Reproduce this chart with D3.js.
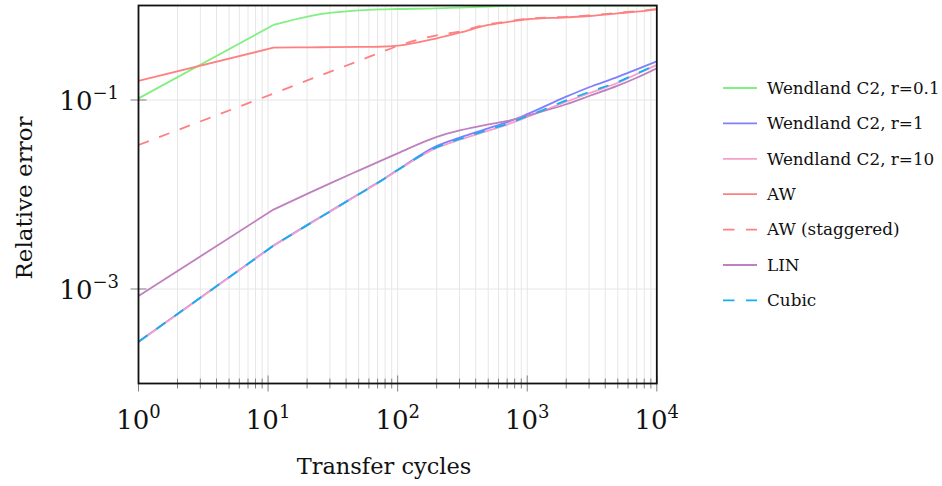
<!DOCTYPE html>
<html><head><meta charset="utf-8">
<script src="https://cdn.jsdelivr.net/npm/d3@7"></script>
<style>
html,body{margin:0;padding:0;background:#fff;}
svg{display:block;font-family:"DejaVu Serif",serif;}
</style></head>
<body><svg id="c" width="942" height="486"></svg>
<script>
// ---- data ----
const cycles = [1, 11, 21, 31, 51, 71, 101, 201, 301, 501, 701, 1001, 2001, 3001, 5001, 7001, 10000];
const wendland01 = [0.104, 0.622, 0.774, 0.839, 0.889, 0.908, 0.918, 0.933, 0.951, 0.973, 0.989, 1.0, 1.0, 1.0, 1.0, 1.0, 1.0];
const wendland1 = [2.77e-4, 2.88e-3, 4.95e-3, 6.81e-3, 0.01026, 0.01346, 0.01841, 0.03273, 0.0400, 0.0501, 0.0582, 0.0708, 0.1084, 0.1365, 0.1758, 0.2113, 0.257];
const wendland10 = [2.75e-4, 2.86e-3, 4.9e-3, 6.75e-3, 0.0102, 0.0133, 0.0182, 0.03126, 0.0380, 0.0473, 0.0550, 0.0661, 0.0959, 0.1178, 0.1524, 0.1884, 0.2344];
const aw = [0.159, 0.358, 0.361, 0.362, 0.365, 0.366, 0.376, 0.450, 0.515, 0.622, 0.668, 0.715, 0.750, 0.774, 0.826, 0.861, 0.912];
const awStaggered = [0.0334, 0.117, 0.165, 0.202, 0.262, 0.312, 0.375, 0.484, 0.531, 0.634, 0.679, 0.724, 0.759, 0.785, 0.836, 0.871, 0.916];
const lin = [8.43e-4, 6.92e-3, 0.01047, 0.01337, 0.01811, 0.02213, 0.02742, 0.04074, 0.04764, 0.05521, 0.05998, 0.06839, 0.09016, 0.1102, 0.1419, 0.1718, 0.2163];
const cubic = [2.77e-4, 2.87e-3, 4.92e-3, 6.78e-3, 0.0102, 0.0134, 0.01828, 0.03177, 0.03873, 0.04842, 0.05598, 0.0673, 0.0989, 0.1216, 0.1549, 0.1905, 0.236];

const seriesNames = ["Wendland C2, r=0.1", "Wendland C2, r=1", "Wendland C2, r=10", "AW", "AW (staggered)", "LIN", "Cubic"];
const seriesValues = [wendland01, wendland1, wendland10, aw, awStaggered, lin, cubic];
const seriesColors = ["#80f080", "#8080ff", "#f4a0c8", "#ff8080", "#ff8080", "#bf80bf", "#10b0f0"];
const seriesDashed = [false, false, false, false, true, false, true];

const xTickExps = [0, 1, 2, 3, 4];
const yTickExps = [-1, -3];
const xLabel = "Transfer cycles";
const yLabel = "Relative error";

// ---- layout ----
const L = 138.5, R = 656.8, T = 5.5, B = 383.5;
const svg = d3.select("#c");
const x = d3.scaleLog().domain([1, 1e4]).range([L, R]);
const y = d3.scaleLog().domain([1e-4, 1]).range([B, T]);

// grid
const minorX = [];
for (let e = 0; e < 4; e++) for (let k = 1; k <= 9; k++) minorX.push(k * Math.pow(10, e));
minorX.push(1e4);
const g = svg.append("g");
g.selectAll("line.vg").data(minorX).join("line")
  .attr("x1", d => x(d)).attr("x2", d => x(d)).attr("y1", T).attr("y2", B)
  .attr("stroke", "#e6e6e6").attr("stroke-width", 1);
g.selectAll("line.hg").data(yTickExps).join("line")
  .attr("x1", L).attr("x2", R).attr("y1", d => y(Math.pow(10, d))).attr("y2", d => y(Math.pow(10, d)))
  .attr("stroke", "#e6e6e6").attr("stroke-width", 1);

// ticks
const isMajor = d => Math.abs(Math.log10(d) - Math.round(Math.log10(d))) < 1e-9;
g.selectAll("line.xt").data(minorX).join("line")
  .attr("x1", d => x(d)).attr("x2", d => x(d))
  .attr("y1", d => B - (isMajor(d) ? 8 : 5)).attr("y2", d => B + (isMajor(d) ? 8 : 5))
  .attr("stroke", "#808080").attr("stroke-width", 1);
g.selectAll("line.yt").data(yTickExps).join("line")
  .attr("x1", L - 8).attr("x2", L + 8)
  .attr("y1", d => y(Math.pow(10, d))).attr("y2", d => y(Math.pow(10, d)))
  .attr("stroke", "#808080").attr("stroke-width", 1);

// clip
svg.append("clipPath").attr("id", "clip").append("rect")
  .attr("x", L).attr("y", T).attr("width", R - L).attr("height", B - T);

// first segment straight, rest smooth (monotone)
const smooth = d3.line().x(d => x(d[0])).y(d => y(d[1])).curve(d3.curveMonotoneX);
function pathFor(vals) {
  const pts = cycles.map((c, j) => [c, vals[j]]);
  const rest = smooth(pts.slice(1));
  const p0 = pts[0];
  return `M${x(p0[0])},${y(p0[1])}L` + rest.slice(1);
}
const lines = svg.append("g").attr("clip-path", "url(#clip)");
seriesValues.forEach((vals, i) => {
  lines.append("path")
    .attr("d", pathFor(vals))
    .attr("fill", "none").attr("stroke", seriesColors[i]).attr("stroke-width", 1.8)
    .attr("stroke-linejoin", "round")
    .attr("stroke-dasharray", seriesDashed[i] ? "11,11" : null);
});

// frame
svg.append("rect").attr("x", L).attr("y", T).attr("width", R - L).attr("height", B - T)
  .attr("fill", "none").attr("stroke", "#111").attr("stroke-width", 1.8);

// tick labels
const xt = svg.append("g").attr("font-size", 26).attr("fill", "#111");
xTickExps.forEach(e => {
  const t = xt.append("text").attr("x", x(Math.pow(10, e))).attr("y", 429).attr("text-anchor", "middle");
  t.append("tspan").text("10");
  t.append("tspan").attr("dy", -11).attr("font-size", 18).text(String(e));
});
yTickExps.forEach(e => {
  const t = xt.append("text").attr("x", 119).attr("y", y(Math.pow(10, e)) + 10).attr("text-anchor", "end");
  t.append("tspan").text("10");
  t.append("tspan").attr("dy", -11).attr("font-size", 18).text("\u2212" + String(-e));
});

// axis labels
svg.append("text").attr("x", 384).attr("y", 474).attr("text-anchor", "middle")
  .attr("font-size", 22.5).attr("fill", "#111").text(xLabel);
svg.append("text").attr("transform", `translate(32,198) rotate(-90)`)
  .attr("text-anchor", "middle").attr("font-size", 23).attr("fill", "#111").text(yLabel);

// legend
const lg = svg.append("g");
seriesNames.forEach((n, i) => {
  const yy = 88 + i * 35.4;
  lg.append("line").attr("x1", 723).attr("x2", 757).attr("y1", yy).attr("y2", yy)
    .attr("stroke", seriesColors[i]).attr("stroke-width", 1.8)
    .attr("stroke-dasharray", seriesDashed[i] ? "11.5,11.5" : null);
  lg.append("text").attr("x", 767).attr("y", yy).attr("dy", "0.35em")
    .attr("font-size", 16.8).attr("fill", "#111").text(n);
});
</script></body></html>
